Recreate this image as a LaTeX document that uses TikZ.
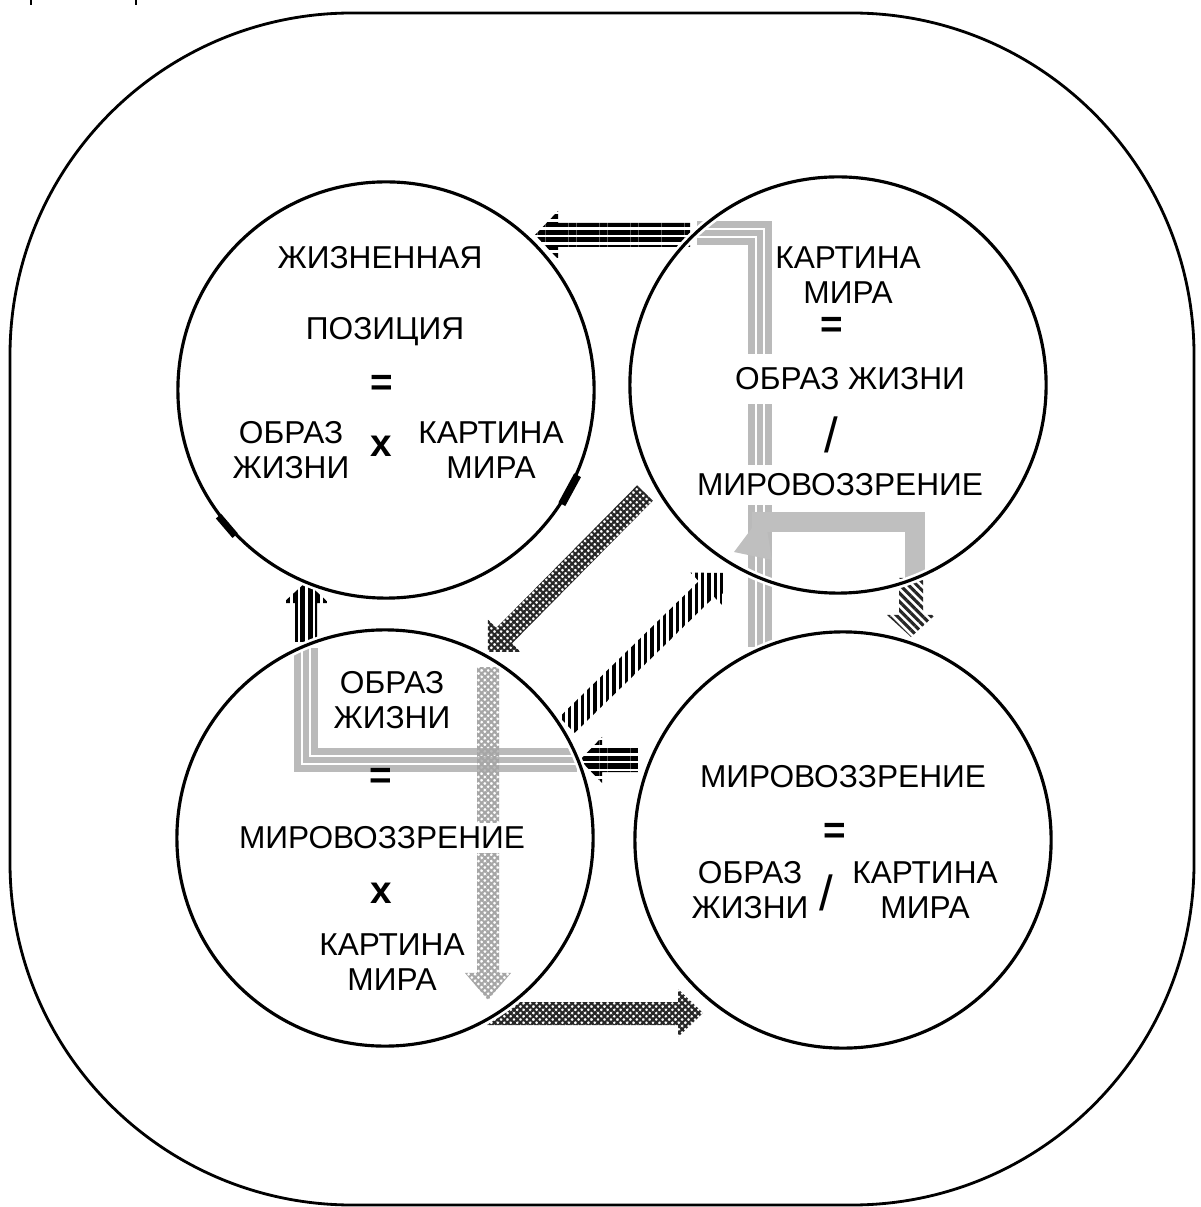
\documentclass[tikz,border=0pt]{standalone}
\usepackage{fontspec}
\setmainfont{Liberation Sans}
\usetikzlibrary{calc,patterns.meta}

% block arrow: style, tail, tip, half width, head half width, head length
\newcommand\blockarrow[6]{%
	\coordinate (ba-h) at ($(#3)!#6!(#2)$);
	\fill[#1] ($(#2)!#4!90:(#3)$) -- ($(ba-h)!#4!90:(#3)$) -- ($(ba-h)!#5!90:(#3)$) -- (#3)
		-- ($(ba-h)!#5!-90:(#3)$) -- ($(ba-h)!#4!-90:(#3)$) -- ($(#2)!#4!-90:(#3)$) -- cycle;
}

\tikzset{
	circ/.style={circle, draw, line width=0.9pt, minimum size=4.16cm, inner sep=0pt,
		preaction={draw=white, line width=2.4pt}},
	lbl/.style={font=\fontsize{9}{10}\selectfont, align=center, inner sep=1pt},
	sym/.style={font=\fontsize{11}{12}\selectfont\bfseries, inner sep=0pt},
	slash/.style={font=\fontsize{14}{15}\selectfont, inner sep=0pt},
	blank/.style={fill=white},
	hlines/.style={pattern={Lines[angle=0,distance=2.2pt,line width=1.45pt]}, pattern color=black},
	vlines/.style={pattern={Lines[angle=90,distance=2.1pt,line width=1.35pt]}, pattern color=black},
	thinv/.style={pattern={Lines[angle=90,distance=1.8pt,line width=0.95pt]}, pattern color=black},
	slines/.style={pattern={Lines[angle=-45,distance=1.7pt,line width=0.9pt]}, pattern color=black!85},
	darkhatch/.style={pattern={Hatch[angle=45,distance=1.3pt,line width=0.62pt]}, pattern color=black!85},
	lighthatch/.style={pattern={Hatch[angle=45,distance=1.3pt,line width=0.6pt]}, pattern color=black!35},
	triple/.style={preaction={draw=black!27, line width=0.24cm, line join=miter},
		draw=white, double=black!27, line width=0.02cm, double distance=0.06cm, line join=miter},
	band/.style={draw=black!25, line width=0.2cm, line join=miter}
}

\begin{document}
\begin{tikzpicture}[x=0.01cm,y=-0.01cm]
	\useasboundingbox (0,0) rectangle (1200,1207);
	\draw[line width=0.8pt, rounded corners=3.42cm] (10,13) rectangle (1194,1205);
	\draw[line width=0.5pt] (31,0) -- (31,5) (136,0) -- (136,5);

	% grey bands
	\draw[triple] (697,233) -- (760,233) -- (760,647);
	\draw[triple] (577,760) -- (306,760) -- (306,648);
	\draw[band] (752,522) -- (915,522) -- (915,578);
	\fill[black!25] (734,552) -- (764,512) -- (772,560) -- cycle;

	% arrows
	\coordinate (kp-s) at (690,235);
	\coordinate (kp-e) at (535,235);
	\coordinate (mo-s) at (638,760);
	\coordinate (mo-e) at (580,760);
	\coordinate (op-s) at (306,642);
	\coordinate (op-e) at (306,582);
	\coordinate (ok-s) at (567,725);
	\coordinate (ok-e) at (723,573);
	\coordinate (ko-s) at (645,493);
	\coordinate (ko-e) at (488,652);
	\coordinate (od-s) at (488,667);
	\coordinate (od-e) at (488,1000);
	\coordinate (km-s) at (911,578);
	\coordinate (km-e) at (911,637);
	\coordinate (om-e) at (703,1013);

	\blockarrow{hlines}{kp-s}{kp-e}{0.12cm}{0.24cm}{0.23cm}
	\blockarrow{hlines}{mo-s}{mo-e}{0.12cm}{0.23cm}{0.22cm}
	\blockarrow{vlines}{op-s}{op-e}{0.11cm}{0.23cm}{0.21cm}
	\blockarrow{thinv}{ok-s}{ok-e}{0.11cm}{0.23cm}{0.23cm}
	\blockarrow{darkhatch}{ko-s}{ko-e}{0.11cm}{0.23cm}{0.23cm}
	\blockarrow{lighthatch}{od-s}{od-e}{0.11cm}{0.23cm}{0.27cm}
	\blockarrow{slines}{km-s}{km-e}{0.12cm}{0.24cm}{0.22cm}
	\fill[darkhatch] (487,1025) -- (520,1002) -- (678,1002) -- (678,989) -- (om-e)
		-- (678,1037) -- (678,1025) -- cycle;

	% texts
	\node[lbl] (poz1) at (380,258) {ЖИЗНЕННАЯ};
	\node[lbl] (poz2) at (385,332) {ПОЗИЦИЯ};
	\node[sym] (poz3) at (382,385) {=};
	\node[lbl] (poz4) at (291,450) {ОБРАЗ\\ЖИЗНИ};
	\node[sym] (poz5) at (381,446) {х};
	\node[lbl] (poz6) at (491,450) {КАРТИНА\\МИРА};

	\node[lbl] (kart1) at (848,275) {КАРТИНА\\МИРА};
	\node[sym] (kart2) at (832,327) {=};
	\node[lbl, blank, inner ysep=4pt] (kart3) at (850,379) {ОБРАЗ ЖИЗНИ};
	\node[slash] (kart4) at (831,435) {/};
	\node[lbl, blank, inner ysep=2.5pt] (kart5) at (840,485) {МИРОВОЗЗРЕНИЕ};

	\node[lbl] (obr1) at (392,700) {ОБРАЗ\\ЖИЗНИ};
	\node[sym] (obr2) at (381,778) {=};
	\node[lbl, blank] (obr3) at (382,838) {МИРОВОЗЗРЕНИЕ};
	\node[sym] (obr4) at (381,893) {х};
	\node[lbl] (obr5) at (392,962) {КАРТИНА\\МИРА};

	\node[lbl] (mir1) at (843,777) {МИРОВОЗЗРЕНИЕ};
	\node[sym] (mir2) at (835,833) {=};
	\node[lbl] (mir3) at (750,890) {ОБРАЗ\\ЖИЗНИ};
	\node[slash] (mir4) at (826,893) {/};
	\node[lbl] (mir5) at (925,890) {КАРТИНА\\МИРА};

	% circles
	\node[circ] (poz) at (386,390) {};
	\node[circ] (kart) at (838,385) {};
	\node[circ] (obr) at (385,838) {};
	\node[circ] (mir) at (843,840) {};

	\draw[line width=2.2pt] (poz.-24) -- (poz.-33);
	\draw[line width=2pt] (poz.-136) -- (poz.-143);
\end{tikzpicture}
\end{document}
